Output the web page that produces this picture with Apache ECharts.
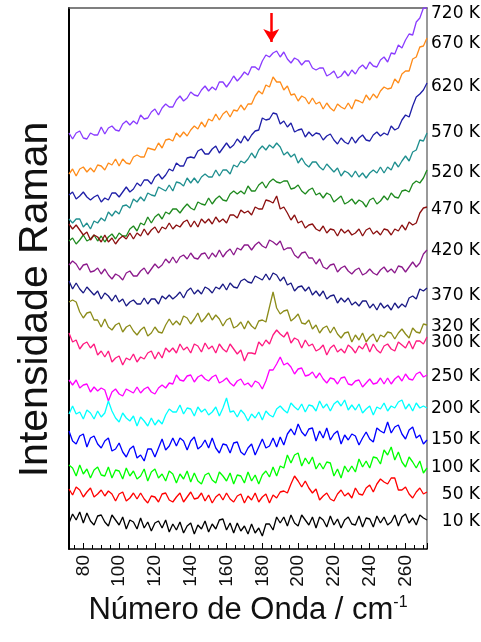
<!DOCTYPE html>
<html>
<head>
<meta charset="utf-8">
<script src="https://cdn.jsdelivr.net/npm/echarts@6/dist/echarts.min.js"></script>
<style>
  html, body { margin: 0; padding: 0; background: #fff; }
  #chart { width: 481px; height: 642px; }
</style>
</head>
<body>
<div id="chart"></div>
<script>
// Raman shift axis (cm^-1)
const wavenumber = [
  72,74,76,78,80,82,84,86,88,90,
  92,94,96,98,100,102,104,106,108,110,
  112,114,116,118,120,122,124,126,128,130,
  132,134,136,138,140,142,144,146,148,150,
  152,154,156,158,160,162,164,166,168,170,
  172,174,176,178,180,182,184,186,188,190,
  192,194,196,198,200,202,204,206,208,210,
  212,214,216,218,220,222,224,226,228,230,
  232,234,236,238,240,242,244,246,248,250,
  252,254,256,258,260,262,264,266,268,270,
  272
];

// Temperatures, top to bottom
const temperatures = ['720 K','670 K','620 K','570 K','520 K','470 K','420 K','370 K',
                      '320 K','300 K','250 K','200 K','150 K','100 K','50 K','10 K'];

// Stacked Raman intensities (arbitrary units, vertical offsets included)
const t720 = [
  416,410,416,418,411,410,416,414,414,422,
  415,421,423,419,418,425,428,424,428,425,
  434,430,431,437,440,434,441,445,442,442,
  449,453,448,451,457,454,453,459,463,458,
  462,459,467,467,462,467,473,468,472,477,
  474,482,482,479,488,494,492,496,498,492,
  497,490,486,491,489,484,488,488,481,479,
  481,481,473,475,478,471,473,478,473,479,
  475,481,484,480,487,483,482,489,492,487,
  496,495,504,501,509,515,514,527,531,541,
  541];
const t670 = [
  375,380,373,380,382,377,381,377,384,383,
  379,386,384,390,383,390,386,385,392,394,
  392,392,401,400,399,406,401,409,410,408,
  416,412,417,413,419,423,420,427,422,430,
  428,435,429,435,438,432,439,438,444,439,
  445,445,453,458,455,464,462,472,467,467,
  459,463,454,455,448,453,451,445,451,445,
  447,440,446,441,438,445,442,440,446,440,
  449,448,446,454,449,455,451,458,462,460,
  461,470,466,475,478,478,490,492,502,503,
  511];
const t620 = [
  354,357,350,353,357,352,349,352,354,347,
  351,349,356,356,352,357,362,357,360,366,
  363,369,369,365,372,375,370,374,380,378,
  386,383,383,391,392,391,398,400,395,395,
  400,403,396,401,406,401,404,410,406,413,
  408,414,418,419,431,429,430,436,435,425,
  428,422,426,417,419,420,412,417,413,416,
  415,409,413,415,409,405,411,407,405,412,
  406,411,414,409,408,414,417,413,416,414,
  423,419,421,429,434,432,443,452,455,459,
  466];
const t570 = [
  330,326,330,330,322,326,320,328,326,331,
  328,337,333,338,335,343,344,341,350,347,
  352,348,356,354,353,362,360,358,364,358,
  367,366,363,371,366,371,366,372,375,372,
  372,379,373,379,379,375,384,382,388,386,
  390,396,391,399,403,399,404,401,406,402,
  394,397,392,395,386,391,385,382,387,387,
  382,379,385,381,377,381,373,378,376,372,
  378,372,376,371,376,379,376,382,376,382,
  379,387,382,388,393,388,397,399,409,408,
  416];
const t520 = [
  308,311,305,309,314,308,310,314,308,313,
  307,312,315,310,316,313,313,320,323,318,
  326,324,332,326,332,335,330,337,335,340,
  340,336,341,345,341,339,347,345,344,351,
  345,350,353,349,348,355,358,355,358,355,
  363,358,358,364,367,361,367,370,367,366,
  368,368,360,361,364,358,355,359,361,354,
  356,351,356,354,347,350,353,345,347,350,
  345,349,347,342,349,351,345,348,353,349,
  356,352,351,358,359,357,365,368,366,371,
  379];
const t470 = [
  325,320,324,319,314,317,309,314,312,307,
  314,307,311,305,310,313,310,316,310,316,
  313,320,314,319,322,316,322,320,326,320,
  324,322,327,329,322,328,322,330,326,330,
  325,332,327,330,326,334,334,331,339,336,
  338,334,342,340,340,349,348,346,353,340,
  342,336,329,334,326,328,321,324,325,320,
  318,323,316,320,319,313,320,316,319,314,
  316,320,313,319,321,315,318,314,320,319,
  314,320,318,324,319,327,324,326,336,341,
  342];
const t420 = [
  284,288,285,279,284,285,277,278,281,275,
  280,274,270,275,273,269,276,278,273,273,
  278,281,275,280,285,281,284,290,286,292,
  286,292,294,290,296,291,290,295,296,290,
  296,292,299,292,297,300,294,301,299,304,
  304,299,304,307,303,301,309,307,304,308,
  299,301,301,294,291,296,297,291,291,285,
  290,282,280,284,285,277,281,283,278,275,
  279,281,274,276,280,276,274,279,282,277,
  280,276,283,282,277,282,287,282,286,295,
  299];
const t370 = [
  268,260,266,260,256,262,258,254,258,250,
  256,253,248,254,247,250,243,247,249,245,
  245,251,245,250,250,245,253,250,254,250,
  253,257,251,258,261,255,259,255,262,260,
  256,262,260,265,259,266,262,261,268,270,
  267,266,273,271,269,275,269,276,274,268,
  272,264,266,258,262,263,258,262,254,258,
  253,258,250,253,254,246,251,247,251,244,
  247,243,248,248,241,245,239,246,241,244,
  239,246,241,245,242,251,253,250,260,258,
  261];
const t320 = [
  247,249,247,237,231,236,237,229,229,222,
  230,222,219,224,226,217,222,224,218,214,
  219,222,213,216,222,217,216,224,230,224,
  228,224,233,231,225,230,236,227,231,236,
  229,234,230,223,229,231,221,223,227,220,
  228,223,220,228,229,227,242,257,241,235,
  238,239,228,231,235,226,225,229,220,224,
  216,221,223,216,222,215,211,216,217,207,
  214,209,216,207,212,215,207,214,212,217,
  216,210,216,220,215,211,221,217,216,225,
  224];
const t300 = [
  216,207,209,200,205,207,201,205,194,198,
  192,198,187,191,193,184,191,189,195,187,
  192,190,196,198,190,197,191,201,197,201,
  196,205,199,202,196,205,203,197,206,200,
  203,196,205,200,197,205,200,195,199,188,
  196,196,195,207,203,209,205,214,219,215,
  212,217,206,211,209,201,209,203,205,198,
  200,204,194,201,204,197,200,196,204,201,
  196,203,200,206,197,205,199,196,203,205,
  200,198,207,204,201,208,200,208,208,205,
  212];
const t250 = [
  169,164,169,161,164,165,157,162,158,161,
  159,148,157,160,155,153,160,158,156,162,
  156,160,162,157,155,161,164,161,166,165,
  174,169,168,173,174,167,172,174,170,168,
  172,174,166,168,171,166,163,168,170,164,
  166,162,168,166,160,168,179,179,185,192,
  184,186,182,175,180,181,173,174,177,171,
  176,170,166,171,170,165,171,172,165,164,
  168,169,162,166,170,165,166,171,165,171,
  165,170,173,168,175,170,169,175,177,172,
  174];
const t200 = [
  135,143,135,137,130,139,136,130,138,132,
  136,148,138,131,127,136,131,128,133,123,
  132,128,123,131,124,129,125,134,140,137,
  137,144,135,141,140,133,142,137,140,134,
  137,142,133,141,151,137,138,132,139,135,
  128,135,131,137,129,138,134,132,140,143,
  139,136,146,142,139,145,137,144,143,138,
  148,141,145,138,145,148,143,149,139,144,
  139,145,136,140,143,134,142,140,146,138,
  143,141,147,149,140,145,138,146,141,143,
  141];
const t150 = [
  118,108,105,113,115,102,111,113,105,101,
  108,111,98,100,106,97,92,100,103,91,
  94,88,100,100,92,101,110,99,103,111,
  103,111,108,99,108,112,100,103,109,101,
  111,101,96,105,104,96,106,107,97,94,
  101,105,94,102,110,101,103,111,102,112,
  104,115,120,114,125,117,113,120,121,108,
  118,111,121,109,115,118,105,114,109,115,
  113,104,111,117,110,107,121,118,116,127,
  116,122,124,115,110,119,122,111,114,105,
  109];
const t100 = [
  84,81,73,84,75,80,71,79,82,74,
  73,82,71,79,78,70,81,73,78,70,
  73,80,68,77,80,71,75,68,78,75,
  66,75,70,78,67,76,68,65,74,76,
  69,66,77,73,68,76,65,74,73,66,
  77,68,74,65,74,78,72,82,73,83,
  81,94,86,94,96,83,91,85,92,80,
  86,80,87,86,73,80,71,83,77,83,
  77,90,82,88,81,92,91,85,99,94,
  102,89,97,87,82,92,87,81,88,76,
  81];
const t50 = [
  60,54,62,59,52,57,61,52,55,59,
  53,58,55,48,55,57,48,51,56,50,
  56,50,46,53,52,47,55,56,49,47,
  52,56,47,52,57,50,51,56,48,54,
  46,52,55,49,56,50,47,53,55,46,
  53,49,56,47,52,55,46,54,51,57,
  58,56,65,73,68,62,68,61,56,60,
  49,53,56,50,48,55,59,53,56,51,
  61,55,54,61,64,57,65,70,67,65,
  71,71,59,59,62,55,51,57,61,55,
  57];
const t10 = [
  26,35,29,37,26,36,28,24,33,34,
  27,23,34,29,24,32,20,29,27,20,
  31,21,27,18,26,28,21,29,17,25,
  19,27,16,23,26,15,24,20,28,17,
  25,20,29,30,19,26,16,26,18,23,
  15,25,16,21,13,25,25,19,32,26,
  32,23,34,26,23,34,29,24,32,21,
  32,29,22,33,24,30,21,29,32,25,
  24,33,22,31,30,22,33,26,32,24,
  27,34,23,32,35,26,31,24,34,31,
  29];

const spectra = [t720,t670,t620,t570,t520,t470,t420,t370,t320,t300,t250,t200,t150,t100,t50,t10];

// Band marked by the arrow (cm^-1) and the arrow's span in intensity units
const arrowAt = 185;
const arrowFrom = 536;
const arrowTo = 507;

// Line colours per temperature
const colors = ['#8a3cff','#ff8c1a','#1f1fa8','#1f8f8f','#1f8a1f','#8c1010','#8c1a8c','#1a1a85',
                '#8c8c1a','#ff1a80','#ff00ff','#00ffff','#0000ff','#00ff00','#ff0000','#000000'];
// Vertical nudges of the temperature tags (px)
const tagShift = [6,6,4,0,3,3,1,8,2,6,2,1,0,0,3,2];

const chart = echarts.init(document.getElementById('chart'), null, { renderer: 'canvas' });

const series = spectra.map((vals, i) => ({
  name: temperatures[i],
  type: 'line',
  data: wavenumber.map((w, k) => [w, vals[k]]),
  showSymbol: false,
  symbol: 'none',
  clip: true,
  lineStyle: { color: colors[i], width: 1.3 },
  itemStyle: { color: colors[i] },
  emphasis: { disabled: true },
  endLabel: {
    show: true,
    distance: 1,
    offset: [0, tagShift[i]],
    formatter: '{t|' + temperatures[i] + '}',
    rich: {
      t: { width: 52, align: 'right', fontSize: 17, fontFamily: 'DejaVu Sans', color: '#000' }
    }
  },
  markLine: i === 0 ? {
    silent: true,
    symbol: ['none', 'arrow'],
    symbolSize: [12, 13],
    label: { show: false },
    lineStyle: { color: '#ff0000', width: 2.5, type: 'solid' },
    data: [[{ coord: [arrowAt, arrowFrom] }, { coord: [arrowAt, arrowTo] }]]
  } : undefined
}));

chart.setOption({
  animation: false,
  backgroundColor: '#ffffff',
  grid: { left: 69, right: 54, top: 8, bottom: 93 },
  xAxis: [{
    type: 'value',
    min: 72,
    max: 272,
    splitNumber: 10,
    name: 'Número de Onda / cm{sup|-1}',
    nameLocation: 'middle',
    nameGap: 43,
    nameTextStyle: {
      fontSize: 31, fontFamily: 'Liberation Sans', color: '#111',
      rich: { sup: { fontSize: 16, fontFamily: 'Liberation Sans', color: '#111', padding: [0, 0, 16, 0] } }
    },
    axisLine: { show: true, onZero: false, lineStyle: { color: '#000', width: 1.5 } },
    axisTick: { show: true, inside: true, length: 6, lineStyle: { color: '#000', width: 1 } },
    minorTick: { show: true, splitNumber: 4, length: 4, lineStyle: { color: '#000', width: 1 } },
    axisLabel: {
      rotate: 90, margin: 6, fontSize: 19, fontFamily: 'Liberation Sans', color: '#111',
      showMinLabel: false, showMaxLabel: false,
      formatter: v => (v % 20 === 0 ? String(v) : '')
    },
    splitLine: { show: false }
  }, {
    type: 'value', position: 'top', min: 72, max: 272,
    axisLine: { show: true, onZero: false, lineStyle: { color: '#555', width: 1.5 } },
    axisTick: { show: false }, axisLabel: { show: false }, splitLine: { show: false }
  }],
  yAxis: [{
    type: 'value',
    min: 0,
    max: 541,
    name: 'Intensidade Raman',
    nameLocation: 'middle',
    nameGap: 13,
    nameTextStyle: { fontSize: 41, fontFamily: 'Liberation Sans', color: '#111', padding: [0, 42, 0, 0] },
    axisLine: { show: true, onZero: false, lineStyle: { color: '#000', width: 2 } },
    axisTick: { show: false },
    axisLabel: { show: false },
    splitLine: { show: false }
  }, {
    type: 'value', position: 'right', min: 0, max: 541,
    axisLine: { show: true, onZero: false, lineStyle: { color: '#777', width: 1.5 } },
    axisTick: { show: false }, axisLabel: { show: false }, splitLine: { show: false }
  }],
  series: series
});
</script>
</body>
</html>
